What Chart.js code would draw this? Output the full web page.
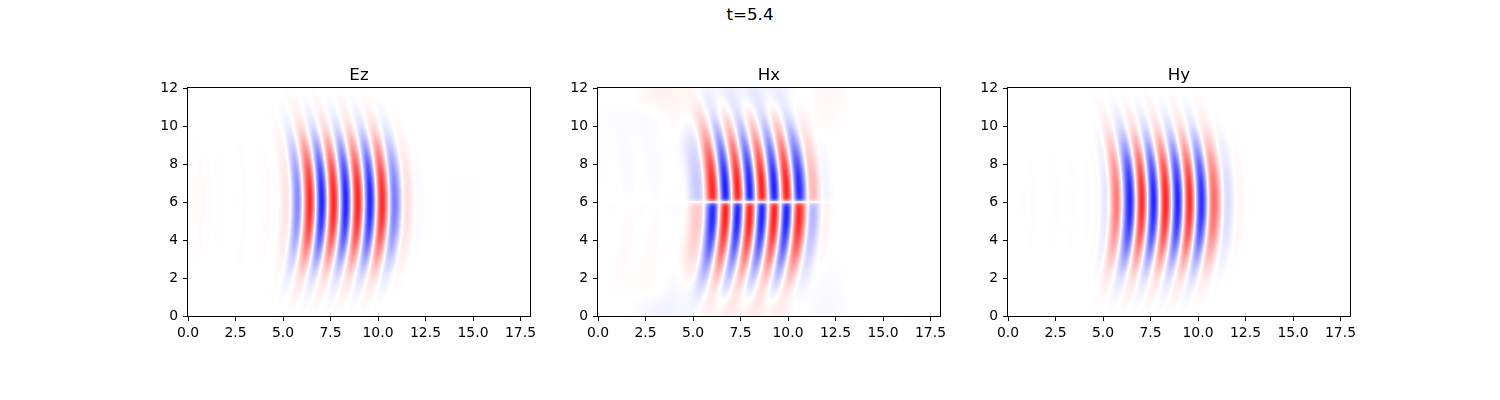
<!DOCTYPE html>
<html>
<head>
<meta charset="utf-8">
<script src="https://cdn.jsdelivr.net/npm/chart.js@4.4.1/dist/chart.umd.min.js"></script>
<style>
  html, body { margin: 0; padding: 0; background: #fff; }
  #fig { position: relative; width: 1500px; height: 400px; overflow: hidden; font-family: "DejaVu Sans", sans-serif; }
  #fig canvas { position: absolute; top: 48px; }
  #suptitle { position: absolute; left: 0; top: 4px; width: 1500px; text-align: center; font-size: 16.7px; line-height: 20px; color: #000; }
</style>
</head>
<body>
<div id="fig">
  <div id="suptitle">t=5.4</div>
  <canvas id="ezChart" width="432" height="308" style="left:128px;width:432px;height:308px"></canvas>
  <canvas id="hxChart" width="432" height="308" style="left:538px;width:432px;height:308px"></canvas>
  <canvas id="hyChart" width="432" height="308" style="left:948px;width:432px;height:308px"></canvas>
</div>
<script>
// axes
const xTicks = [0, 2.5, 5, 7.5, 10, 12.5, 15, 17.5];
const xTickLabels = ['0.0', '2.5', '5.0', '7.5', '10.0', '12.5', '15.0', '17.5'];
const yTicks = [0, 2, 4, 6, 8, 10, 12];
const xLimits = [0, 18];
const yLimits = [0, 12];
const beamCentreY = 6;

// Ez along y = 6: positions of the stripe crests and their signed strength
const ezCrestX = [0, 0.82, 1.17, 1.6, 2.65, 2.98, 3.33, 4.3, 4.65, 5.28, 5.81, 6.43, 7.04, 7.66, 8.3, 8.93, 9.58, 10.2, 10.82, 11.44, 12.06, 12.7, 18];
const ezCrestV = [0, 0.015, -0.015, 0.01, -0.01, 0.015, -0.01, 0.015, -0.015, 0.08, -0.45, 0.82, -0.86, 0.85, -0.86, 0.85, -0.86, 0.82, -0.5, 0.1, -0.02, 0, 0];

// Hy along y = 6
const hyCrestX = [0, 0.9, 1.3, 1.8, 2.6, 3.0, 3.4, 4.3, 4.7, 5.2, 5.75, 6.43, 7.04, 7.66, 8.29, 8.93, 9.55, 10.17, 10.78, 11.45, 12.1, 12.7, 13.3, 18];
const hyCrestV = [0, -0.01, 0.01, -0.01, 0.01, -0.01, 0.01, -0.015, 0.015, -0.08, 0.5, -0.86, 0.82, -0.86, 0.85, -0.86, 0.82, -0.82, 0.55, -0.12, 0.02, -0.01, 0, 0];

// Hx just above y = 6 (below the centre line it flips sign)
const hxCrestX = [0, 1.0, 1.6, 2.3, 3.0, 3.7, 4.5, 5.43, 6.07, 6.71, 7.35, 7.99, 8.63, 9.28, 9.92, 10.56, 11.22, 11.9, 12.5, 18];
const hxCrestV = [0, 0.01, -0.01, 0.01, -0.01, 0.01, 0, -0.16, 0.82, -0.86, 0.85, -0.86, 0.85, -0.86, 0.85, -0.82, 0.25, -0.03, 0, 0];

// how strong the stripes are at a distance dy from the centre line
const envDy = [0, 1, 2, 3, 4, 5, 6];
const ezEnv = [1, 0.93, 0.72, 0.42, 0.16, 0.05, 0.01];
const hyEnv = [1, 0.93, 0.72, 0.42, 0.16, 0.05, 0.01];
const hxEnvDy = [0, 0.08, 0.2, 0.4, 1, 1.5, 2, 2.5, 3, 3.5, 4, 4.5, 5, 6];
const hxEnv = [0, 0.55, 0.9, 1, 1, 0.94, 0.83, 0.7, 0.55, 0.4, 0.27, 0.16, 0.08, 0.02];

// wavefronts curve back: shift to the left at distance dy from the centre
const bendDy = [0, 1, 2, 3, 4, 5, 6];
const bendDx = [0, 0.03, 0.12, 0.27, 0.48, 0.75, 1.05];

// faint wide ripples in Hx (upper half, lower half is the same with opposite sign)
const hxBgX = [0, 1.5, 3, 4.5, 6, 7.5, 9, 10.5, 12, 13.5, 18];
const hxBgDy = [0, 1.5, 3, 4.5, 5.5, 6];
const hxBgRows = [
  [0, 0, 0, 0, 0, 0, 0, 0, 0, 0, 0],
  [-0.01, -0.012, -0.01, -0.012, 0, 0, 0, 0, 0, 0, 0],
  [-0.01, -0.012, -0.01, -0.015, 0, 0, 0, 0, 0.008, 0, 0],
  [-0.008, -0.012, -0.008, 0.04, 0, -0.015, -0.015, 0, 0.02, 0, 0],
  [0, 0, 0.04, 0.04, -0.045, -0.06, -0.06, -0.01, 0.03, 0, 0],
  [0, 0, 0.04, 0.035, -0.045, -0.06, -0.06, -0.01, 0.025, 0, 0]
];
const ezBase = 0.004;
const hyBase = 0.004;

// smooth curve through read samples (cubic Hermite)
function smooth(xs, vs, x) {
  const n = xs.length;
  if (x <= xs[0]) return vs[0];
  if (x >= xs[n - 1]) return vs[n - 1];
  let k = 0;
  while (xs[k + 1] < x) k++;
  const h = xs[k + 1] - xs[k], t = (x - xs[k]) / h;
  const slope = i => (i <= 0 || i >= n - 1) ? 0 : (vs[i + 1] - vs[i - 1]) / (xs[i + 1] - xs[i - 1]);
  const m0 = slope(k) * h, m1 = slope(k + 1) * h;
  const t2 = t * t, t3 = t2 * t;
  return (2 * t3 - 3 * t2 + 1) * vs[k] + (t3 - 2 * t2 + t) * m0 + (-2 * t3 + 3 * t2) * vs[k + 1] + (t3 - t2) * m1;
}

const fields = {
  Ez: (x, y) => {
    const dy = Math.abs(y - beamCentreY);
    return ezBase + smooth(envDy, ezEnv, dy) * smooth(ezCrestX, ezCrestV, x + smooth(bendDy, bendDx, dy));
  },
  Hy: (x, y) => {
    const dy = Math.abs(y - beamCentreY);
    return hyBase + smooth(envDy, hyEnv, dy) * smooth(hyCrestX, hyCrestV, x + smooth(bendDy, bendDx, dy));
  },
  Hx: (x, y) => {
    const dy = Math.abs(y - beamCentreY);
    const side = y >= beamCentreY ? 1 : -1;
    const bgCol = hxBgRows.map(row => smooth(hxBgX, row, x));
    const bg = smooth(hxBgDy, bgCol, dy);
    return side * (bg + smooth(hxEnvDy, hxEnv, dy) * smooth(hxCrestX, hxCrestV, x + smooth(bendDy, bendDx, dy)));
  }
};

// matplotlib 'bwr'
function bwr(v) {
  v = Math.max(-1, Math.min(1, v));
  if (v >= 0) { const c = Math.round(255 * (1 - v)); return [255, c, c]; }
  const c = Math.round(255 * (1 + v));
  return [c, c, 255];
}

const heatmapPlugin = {
  id: 'heatmap',
  beforeDatasetsDraw(chart, args, opts) {
    const { ctx, chartArea: a, scales } = chart;
    const field = fields[opts.field];
    const w = Math.round(a.right - a.left), h = Math.round(a.bottom - a.top);
    const off = document.createElement('canvas');
    off.width = w; off.height = h;
    const octx = off.getContext('2d');
    const img = octx.createImageData(w, h);
    for (let j = 0; j < h; j++) {
      const yv = scales.y.getValueForPixel(a.top + j + 0.5);
      for (let i = 0; i < w; i++) {
        const xv = scales.x.getValueForPixel(a.left + i + 0.5);
        const [r, g, b] = bwr(field(xv, yv));
        const p = (j * w + i) * 4;
        img.data[p] = r; img.data[p + 1] = g; img.data[p + 2] = b; img.data[p + 3] = 255;
      }
    }
    octx.putImageData(img, 0, 0);
    ctx.drawImage(off, a.left, a.top, w, h);
  },
  afterDraw(chart, args, opts) {
    const { ctx, chartArea: a } = chart;
    ctx.save();
    ctx.strokeStyle = '#000';
    ctx.lineWidth = 1;
    ctx.strokeRect(Math.round(a.left) - 0.5, Math.round(a.top) - 0.5, Math.round(a.right - a.left) + 1, Math.round(a.bottom - a.top) + 1);
    ctx.fillStyle = '#000';
    ctx.font = '16.7px "DejaVu Sans"';
    ctx.textAlign = 'center';
    ctx.textBaseline = 'alphabetic';
    ctx.fillText(opts.field, (a.left + a.right) / 2, a.top - 8.3);
    ctx.restore();
  }
};

const tickFont = { family: 'DejaVu Sans', size: 13.9 };
const tickGrid = { drawOnChartArea: false, drawTicks: true, tickLength: 5, tickColor: '#000', tickWidth: 1 };

function makePanel(canvasId, name) {
  new Chart(document.getElementById(canvasId), {
    type: 'scatter',
    data: { datasets: [] },
    options: {
      responsive: false,
      animation: false,
      devicePixelRatio: 1,
      layout: { padding: { left: 0, right: 30, top: 40, bottom: 0 } },
      plugins: {
        legend: { display: false },
        tooltip: { enabled: false },
        heatmap: { field: name }
      },
      scales: {
        x: {
          type: 'linear',
          min: xLimits[0],
          max: xLimits[1],
          afterFit: s => { s.height = 40; },
          afterBuildTicks: s => { s.ticks = xTicks.map(v => ({ value: v })); },
          ticks: { callback: (v, i) => xTickLabels[i], font: tickFont, color: '#000', padding: 4, maxRotation: 0, autoSkip: false },
          grid: tickGrid,
          border: { display: false }
        },
        y: {
          type: 'linear',
          min: yLimits[0],
          max: yLimits[1],
          afterFit: s => { s.width = 60; },
          afterBuildTicks: s => { s.ticks = yTicks.map(v => ({ value: v })); },
          ticks: { callback: v => String(v), font: tickFont, color: '#000', padding: 5, autoSkip: false },
          grid: tickGrid,
          border: { display: false }
        }
      }
    },
    plugins: [heatmapPlugin]
  });
}

makePanel('ezChart', 'Ez');
makePanel('hxChart', 'Hx');
makePanel('hyChart', 'Hy');
</script>
</body>
</html>
